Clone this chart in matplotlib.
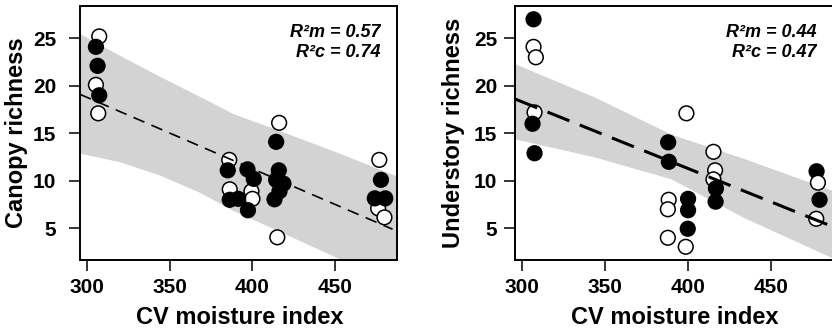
import matplotlib
matplotlib.use("Agg")
import matplotlib.pyplot as plt

plt.rcParams['font.family'] = ['Liberation Sans', 'DejaVu Sans']
plt.rcParams['font.weight'] = 'bold'
plt.rcParams['lines.scale_dashes'] = False

# ---- data ----
# canopy panel: points in draw order, 1 = filled, 0 = open
can_x = [307.6, 305.6, 307.0, 305.6, 306.6, 307.6,
         386.0, 386.3, 399.4, 400.0, 385.1, 386.3, 391.4, 397.0, 400.8, 397.3,
         416.1, 415.0, 414.3, 415.9, 414.3, 418.7, 416.3, 413.3,
         476.5, 475.8, 479.6, 477.5, 473.8, 480.1]
can_y = [25.2, 20.1, 17.1, 24.1, 22.1, 19.0,
         12.2, 9.1, 8.9, 8.1, 11.1, 8.0, 8.1, 11.2, 10.2, 6.9,
         16.1, 4.05, 14.1, 11.1, 10.1, 9.7, 8.9, 8.05,
         12.2, 7.1, 6.15, 10.1, 8.15, 8.15]
can_solid = [0, 0, 0, 1, 1, 1,
             0, 0, 0, 0, 1, 1, 1, 1, 1, 1,
             0, 0, 1, 1, 1, 1, 1, 1,
             0, 0, 0, 1, 1, 1]
can_line_x = [296, 484.5]
can_line_y = [19.1, 4.9]
can_band_x = [296, 320, 344, 368, 388, 416, 454, 487]
can_band_hi = [25.5, 23.2, 21.0, 18.9, 17.1, 15.3, 12.8, 10.5]
can_band_lo = [12.9, 12.0, 10.6, 8.8, 6.9, 4.7, 1.66, -0.8]
can_r2 = ['R²m = 0.57', 'R²c = 0.74']

# understory panel
und_x = [307.0, 308.4, 307.6, 307.0, 306.4, 307.6,
         388.5, 388.0, 388.0, 388.2, 388.6,
         399.2, 398.8, 400.2, 400.2, 400.0,
         415.5, 416.5, 415.5, 417.0, 416.8,
         477.7, 478.5, 479.5, 477.5]
und_y = [24.1, 23.0, 17.2, 27.0, 16.0, 12.9,
         8.0, 7.0, 4.0, 14.05, 12.0,
         17.1, 3.05, 8.1, 6.9, 4.95,
         13.05, 11.1, 10.15, 9.2, 7.8,
         11.0, 9.8, 8.0, 6.0]
und_solid = [0, 0, 0, 1, 1, 1,
             0, 0, 0, 1, 1,
             0, 0, 1, 1, 1,
             0, 0, 0, 1, 1,
             1, 0, 1, 0]
und_line_x = [296, 487]
und_line_y = [18.6, 5.2]
und_band_x = [296, 344, 390, 433, 487]
und_band_hi = [22.3, 18.8, 14.9, 12.4, 9.0]
und_band_lo = [14.4, 12.5, 10.2, 6.2, 1.9]
und_r2 = ['R²m = 0.44', 'R²c = 0.47']

x_ticks = [300, 350, 400, 450]
y_ticks = [5, 10, 15, 20, 25]

fig = plt.figure(figsize=(8.32, 3.33), dpi=100)
ax1 = fig.add_axes([80 / 832, 73 / 333, 316.7 / 832, 254 / 333])
ax2 = fig.add_axes([515.3 / 832, 73 / 333, 316.7 / 832, 254 / 333])

panels = [
    (ax1, can_x, can_y, can_solid, can_line_x, can_line_y, can_band_x, can_band_hi, can_band_lo,
     can_r2, 'Canopy richness', 1.2, (8.5, 5.5), 9.0),
    (ax2, und_x, und_y, und_solid, und_line_x, und_line_y, und_band_x, und_band_hi, und_band_lo,
     und_r2, 'Understory richness', 2.2, (17, 8), 5.0),
]

for ax, px, py, solid, lx, ly, bx, bhi, blo, r2, ylab, lw, dash, ypad in panels:
    ax.fill_between(bx, blo, bhi, color='#d3d3d3', lw=0, zorder=1)
    face = ['black' if s else 'white' for s in solid]
    ax.scatter(px, py, s=112, facecolors=face, edgecolors='black', linewidths=1.1, zorder=3)
    ax.plot(lx, ly, color='black', lw=lw, dashes=dash, zorder=4)

    ax.set_xlim(296, 487)
    ax.set_ylim(1.66, 28.4)
    ax.set_xticks(x_ticks)
    ax.set_yticks(y_ticks)
    ax.tick_params(direction='out', length=8, width=1.1, labelsize=15)
    ax.tick_params(axis='x', pad=5)
    ax.tick_params(axis='y', pad=ypad)
    for sp in ax.spines.values():
        sp.set_linewidth(1.4)

    ax.set_xlabel('CV moisture index', fontsize=17, fontweight='bold', va='center')
    ax.set_ylabel(ylab, fontsize=17, fontweight='bold', va='center')
    ax.xaxis.set_label_coords(0.505, -0.228)

    ax.text(0.95, 0.894, r2[0], transform=ax.transAxes, ha='right', va='center',
            fontsize=13, fontstyle='italic', fontweight='bold')
    ax.text(0.95, 0.815, r2[1], transform=ax.transAxes, ha='right', va='center',
            fontsize=13, fontstyle='italic', fontweight='bold')

ax1.yaxis.set_label_coords(-0.202, 0.5)
ax2.yaxis.set_label_coords(-0.196, 0.5)
ax2.spines['right'].set_visible(False)

fig.savefig('out.png', dpi=100)
